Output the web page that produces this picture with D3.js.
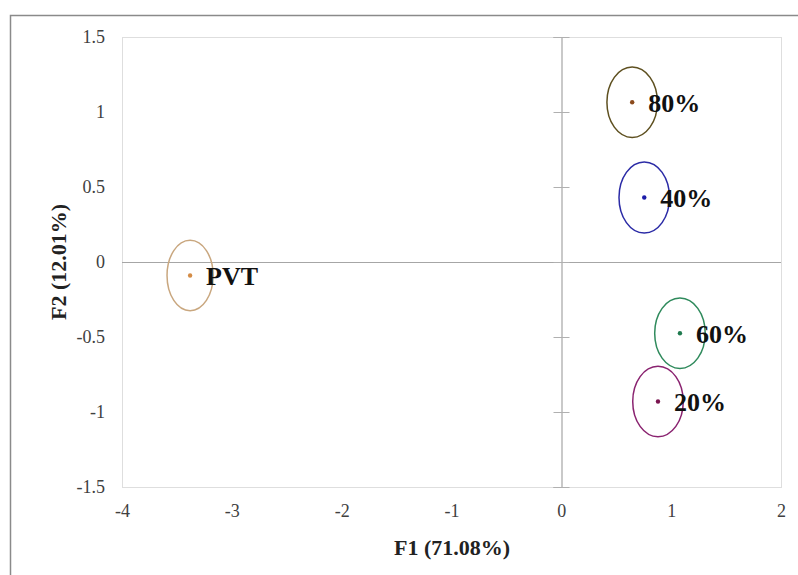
<!DOCTYPE html>
<html>
<head>
<meta charset="utf-8">
<script src="https://cdn.jsdelivr.net/npm/d3@7"></script>
<style>
  body { margin: 0; background: #fff; }
  svg { display: block; font-family: "Liberation Serif", "Times New Roman", serif; }
</style>
</head>
<body>
<svg width="798" height="575"></svg>
<script>
// observations (centroids on F1/F2) and confidence ellipse half-widths
var groups = ['PVT', '80%', '40%', '60%', '20%'];
var f1 = [-3.38, 0.645, 0.755, 1.08, 0.88];
var f2 = [-0.09, 1.065, 0.43, -0.475, -0.93];
var ellF1 = [0.21, 0.23, 0.23, 0.23, 0.23];
var ellF2 = [0.235, 0.235, 0.237, 0.235, 0.235];

var xTicks = [-4, -3, -2, -1, 0, 1, 2];
var yTicks = [-1.5, -1, -0.5, 0, 0.5, 1, 1.5];

var ellColors = ['#c9a77f', '#5e5020', '#2b2ba6', '#2f8a5c', '#8a2370'];
var dotColors = ['#d48c46', '#8b4a1c', '#1c1ca8', '#1f7a4e', '#7a1450'];

var svg = d3.select('svg');

var x = d3.scaleLinear().domain([-4, 2]).range([122, 781]);
var y = d3.scaleLinear().domain([-1.5, 1.5]).range([487, 37]);

// outer frame (only top and left edges show)
svg.append('path')
  .attr('d', 'M10.5,575V15.5H798')
  .style('fill', 'none')
  .style('stroke', '#8a8a8a')
  .style('stroke-width', 1.5);

// plot area border
svg.append('rect')
  .attr('x', x(-4) + 0.5)
  .attr('y', y(1.5) + 0.5)
  .attr('width', x(2) - x(-4))
  .attr('height', y(-1.5) - y(1.5))
  .style('fill', 'none')
  .style('stroke', '#dedede');

// horizontal axis line through 0
svg.append('line')
  .attr('x1', x(-4)).attr('x2', x(2))
  .attr('y1', Math.round(y(0)) + 0.5).attr('y2', Math.round(y(0)) + 0.5)
  .style('stroke', '#a6a6a6')
  .style('stroke-width', 1.2);

// vertical axis through 0 with crossing ticks
var yAxisMid = svg.append('g')
  .attr('transform', 'translate(' + (Math.round(x(0)) + 0.5) + ',0)')
  .call(d3.axisLeft(y).tickValues(yTicks).tickSize(8).tickFormat(''));
yAxisMid.select('.domain').style('stroke', '#a6a6a6').style('stroke-width', 1.2);
yAxisMid.selectAll('.tick line').attr('x1', 8).style('stroke', '#b0b0b0');

// y tick labels at the left
var yAxisLeft = svg.append('g')
  .attr('transform', 'translate(' + x(-4) + ',0)')
  .call(d3.axisLeft(y).tickValues(yTicks).tickSize(0).tickPadding(17)
    .tickFormat(function(d){ return String(d); }));
yAxisLeft.select('.domain').remove();
yAxisLeft.selectAll('text')
  .style('font-family', '"Liberation Serif", serif')
  .style('font-size', '18px')
  .style('fill', '#404040');

// x tick labels at the bottom
var xAxis = svg.append('g')
  .attr('transform', 'translate(0,' + y(-1.5) + ')')
  .call(d3.axisBottom(x).tickValues(xTicks).tickSize(0).tickPadding(17)
    .tickFormat(function(d){ return String(d); }));
xAxis.select('.domain').remove();
xAxis.selectAll('text')
  .style('font-family', '"Liberation Serif", serif')
  .style('font-size', '18px')
  .style('fill', '#404040');

// axis titles
svg.append('text')
  .attr('x', 452)
  .attr('y', 555)
  .attr('text-anchor', 'middle')
  .style('font-weight', 'bold')
  .style('font-size', '22px')
  .style('fill', '#222')
  .text('F1 (71.08%)');

svg.append('text')
  .attr('transform', 'translate(66,' + y(0) + ') rotate(-90)')
  .attr('text-anchor', 'middle')
  .style('font-weight', 'bold')
  .style('font-size', '22px')
  .style('fill', '#222')
  .text('F2 (12.01%)');

// ellipses, dots, labels
var idx = d3.range(groups.length);

svg.selectAll('ellipse.conf')
  .data(idx)
  .enter()
  .append('ellipse')
  .attr('class', 'conf')
  .attr('cx', function(i){ return x(f1[i]); })
  .attr('cy', function(i){ return y(f2[i]); })
  .attr('rx', function(i){ return x(f1[i] + ellF1[i]) - x(f1[i]); })
  .attr('ry', function(i){ return y(f2[i]) - y(f2[i] + ellF2[i]); })
  .style('fill', 'none')
  .style('stroke', function(i){ return ellColors[i]; })
  .style('stroke-width', 1.5);

svg.selectAll('circle.obs')
  .data(idx)
  .enter()
  .append('circle')
  .attr('class', 'obs')
  .attr('cx', function(i){ return x(f1[i]); })
  .attr('cy', function(i){ return y(f2[i]); })
  .attr('r', 2.2)
  .style('fill', function(i){ return dotColors[i]; });

svg.selectAll('text.lab')
  .data(idx)
  .enter()
  .append('text')
  .attr('class', 'lab')
  .attr('x', function(i){ return x(f1[i]) + 16; })
  .attr('y', function(i){ return y(f2[i]); })
  .attr('dy', '0.36em')
  .style('font-weight', 'bold')
  .style('font-size', '26px')
  .style('fill', '#111')
  .text(function(i){ return groups[i]; });
</script>
</body>
</html>
